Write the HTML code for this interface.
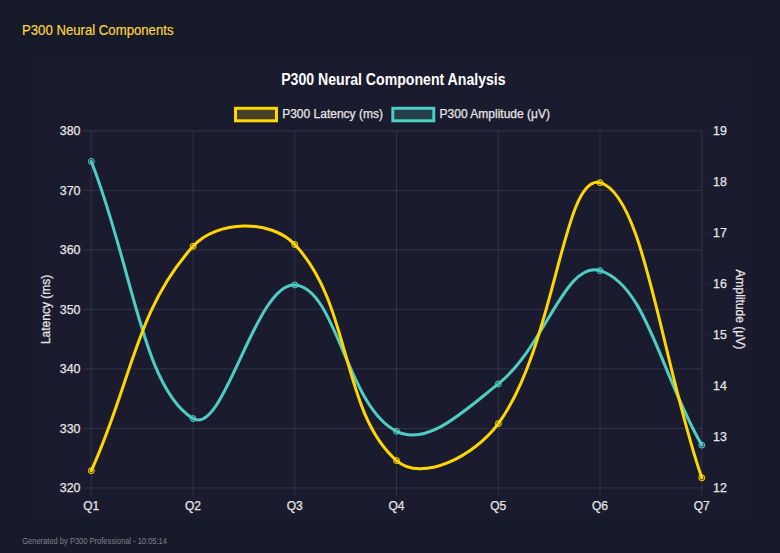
<!DOCTYPE html>
<html><head><meta charset="utf-8"><style>
html,body{margin:0;padding:0;width:780px;height:553px;overflow:hidden;background:#171a28;font-family:"Liberation Sans",sans-serif;}
.panel{position:absolute;left:34px;top:61px;width:718px;height:456px;background:#1b1b2f;}
svg{position:absolute;left:0;top:0;}
.t{font-family:"Liberation Sans",sans-serif;font-size:12.4px;fill:#e6e6e6;stroke:#e6e6e6;stroke-width:0.25px;}
.t2{font-family:"Liberation Sans",sans-serif;font-size:12px;fill:#e6e6e6;stroke:#e6e6e6;stroke-width:0.25px;}
.h{font-family:"Liberation Sans",sans-serif;font-size:14px;fill:#fad445;stroke:#fad445;stroke-width:0.2px;}
.f{font-family:"Liberation Sans",sans-serif;font-size:8.6px;fill:#80828c;}
.ti{font-family:"Liberation Sans",sans-serif;font-size:15.6px;font-weight:bold;fill:#ffffff;}
</style></head><body>
<div class="panel"></div>
<svg width="780" height="553" viewBox="0 0 780 553">
<line x1="83.3" y1="487.95" x2="701.8" y2="487.95" stroke="rgba(255,255,255,0.1)" stroke-width="1"/>
<line x1="83.3" y1="428.43" x2="701.8" y2="428.43" stroke="rgba(255,255,255,0.1)" stroke-width="1"/>
<line x1="83.3" y1="368.92" x2="701.8" y2="368.92" stroke="rgba(255,255,255,0.1)" stroke-width="1"/>
<line x1="83.3" y1="309.40" x2="701.8" y2="309.40" stroke="rgba(255,255,255,0.1)" stroke-width="1"/>
<line x1="83.3" y1="249.88" x2="701.8" y2="249.88" stroke="rgba(255,255,255,0.1)" stroke-width="1"/>
<line x1="83.3" y1="190.37" x2="701.8" y2="190.37" stroke="rgba(255,255,255,0.1)" stroke-width="1"/>
<line x1="83.3" y1="130.85" x2="701.8" y2="130.85" stroke="rgba(255,255,255,0.1)" stroke-width="1"/>
<line x1="91.30" y1="130.85" x2="91.30" y2="495.95" stroke="rgba(255,255,255,0.1)" stroke-width="1"/>
<line x1="193.05" y1="130.85" x2="193.05" y2="495.95" stroke="rgba(255,255,255,0.1)" stroke-width="1"/>
<line x1="294.80" y1="130.85" x2="294.80" y2="495.95" stroke="rgba(255,255,255,0.1)" stroke-width="1"/>
<line x1="396.55" y1="130.85" x2="396.55" y2="495.95" stroke="rgba(255,255,255,0.1)" stroke-width="1"/>
<line x1="498.30" y1="130.85" x2="498.30" y2="495.95" stroke="rgba(255,255,255,0.1)" stroke-width="1"/>
<line x1="600.05" y1="130.85" x2="600.05" y2="495.95" stroke="rgba(255,255,255,0.1)" stroke-width="1"/>
<line x1="701.80" y1="130.85" x2="701.80" y2="495.95" stroke="rgba(255,255,255,0.1)" stroke-width="1"/>
<line x1="702.8" y1="487.95" x2="709.8" y2="487.95" stroke="rgba(255,255,255,0.05)" stroke-width="1"/>
<line x1="702.8" y1="436.94" x2="709.8" y2="436.94" stroke="rgba(255,255,255,0.05)" stroke-width="1"/>
<line x1="702.8" y1="385.92" x2="709.8" y2="385.92" stroke="rgba(255,255,255,0.05)" stroke-width="1"/>
<line x1="702.8" y1="334.91" x2="709.8" y2="334.91" stroke="rgba(255,255,255,0.05)" stroke-width="1"/>
<line x1="702.8" y1="283.89" x2="709.8" y2="283.89" stroke="rgba(255,255,255,0.05)" stroke-width="1"/>
<line x1="702.8" y1="232.88" x2="709.8" y2="232.88" stroke="rgba(255,255,255,0.05)" stroke-width="1"/>
<line x1="702.8" y1="181.86" x2="709.8" y2="181.86" stroke="rgba(255,255,255,0.05)" stroke-width="1"/>
<line x1="702.8" y1="130.85" x2="709.8" y2="130.85" stroke="rgba(255,255,255,0.05)" stroke-width="1"/>
<text x="80.5" y="492.25" text-anchor="end" class="t">320</text>
<text x="80.5" y="432.73" text-anchor="end" class="t">330</text>
<text x="80.5" y="373.22" text-anchor="end" class="t">340</text>
<text x="80.5" y="313.70" text-anchor="end" class="t">350</text>
<text x="80.5" y="254.18" text-anchor="end" class="t">360</text>
<text x="80.5" y="194.67" text-anchor="end" class="t">370</text>
<text x="80.5" y="135.15" text-anchor="end" class="t">380</text>
<text x="713" y="492.25" class="t">12</text>
<text x="713" y="441.24" class="t">13</text>
<text x="713" y="390.22" class="t">14</text>
<text x="713" y="339.21" class="t">15</text>
<text x="713" y="288.19" class="t">16</text>
<text x="713" y="237.18" class="t">17</text>
<text x="713" y="186.16" class="t">18</text>
<text x="713" y="135.15" class="t">19</text>
<text x="91.30" y="509.5" text-anchor="middle" class="t2">Q1</text>
<text x="193.05" y="509.5" text-anchor="middle" class="t2">Q2</text>
<text x="294.80" y="509.5" text-anchor="middle" class="t2">Q3</text>
<text x="396.55" y="509.5" text-anchor="middle" class="t2">Q4</text>
<text x="498.30" y="509.5" text-anchor="middle" class="t2">Q5</text>
<text x="600.05" y="509.5" text-anchor="middle" class="t2">Q6</text>
<text x="701.80" y="509.5" text-anchor="middle" class="t2">Q7</text>
<text transform="translate(50,309.40) rotate(-90)" text-anchor="middle" class="t2">Latency (ms)</text>
<text transform="translate(735.5,309.40) rotate(90)" text-anchor="middle" class="t2">Amplitude (μV)</text>
<text x="393.4" y="84.8" text-anchor="middle" class="ti" textLength="224.5" lengthAdjust="spacingAndGlyphs">P300 Neural Component Analysis</text>
<rect x="235.5" y="108.3" width="41" height="12.5" fill="rgba(255,215,0,0.2)" stroke="#ffd700" stroke-width="3"/>
<text x="282.2" y="118.4" class="t2">P300 Latency (ms)</text>
<rect x="392.8" y="108.3" width="41" height="12.5" fill="rgba(78,205,196,0.2)" stroke="#4ecdc4" stroke-width="3"/>
<text x="439.6" y="118.4" class="t2">P300 Amplitude (μV)</text>
<text x="22" y="35" class="h" textLength="151.5" lengthAdjust="spacingAndGlyphs">P300 Neural Components</text>
<text x="22.2" y="544.4" class="f" textLength="144.8" lengthAdjust="spacingAndGlyphs">Generated by P300 Professional - 10:05:14</text>
<path d="M91.30 161.46 C132.00 264.30 142.41 387.85 193.05 418.57 C223.81 437.23 255.31 282.44 294.80 284.91 C336.71 287.54 346.60 407.03 396.55 431.32 C428.00 446.62 463.75 411.16 498.30 383.88 C545.15 346.88 565.06 260.10 600.05 270.63 C646.46 284.59 661.10 375.31 701.80 445.10" fill="none" stroke="#4ecdc4" stroke-width="3" stroke-linejoin="round" stroke-linecap="round"/>
<circle cx="91.30" cy="161.46" r="3" fill="rgba(78,205,196,0.2)" stroke="#4ecdc4" stroke-width="1"/>
<circle cx="193.05" cy="418.57" r="3" fill="rgba(78,205,196,0.2)" stroke="#4ecdc4" stroke-width="1"/>
<circle cx="294.80" cy="284.91" r="3" fill="rgba(78,205,196,0.2)" stroke="#4ecdc4" stroke-width="1"/>
<circle cx="396.55" cy="431.32" r="3" fill="rgba(78,205,196,0.2)" stroke="#4ecdc4" stroke-width="1"/>
<circle cx="498.30" cy="383.88" r="3" fill="rgba(78,205,196,0.2)" stroke="#4ecdc4" stroke-width="1"/>
<circle cx="600.05" cy="270.63" r="3" fill="rgba(78,205,196,0.2)" stroke="#4ecdc4" stroke-width="1"/>
<circle cx="701.80" cy="445.10" r="3" fill="rgba(78,205,196,0.2)" stroke="#4ecdc4" stroke-width="1"/>
<path d="M91.30 470.69 C132.00 380.94 135.44 310.33 193.05 246.31 C216.84 219.87 270.48 218.92 294.80 244.53 C351.88 304.62 340.54 411.26 396.55 460.57 C421.94 482.92 474.48 456.21 498.30 423.67 C555.88 345.03 562.94 172.75 600.05 182.63 C644.34 194.42 661.10 359.75 701.80 477.83" fill="none" stroke="#ffd700" stroke-width="3" stroke-linejoin="round" stroke-linecap="round"/>
<circle cx="91.30" cy="470.69" r="3" fill="rgba(255,215,0,0.2)" stroke="#ffd700" stroke-width="1"/>
<circle cx="193.05" cy="246.31" r="3" fill="rgba(255,215,0,0.2)" stroke="#ffd700" stroke-width="1"/>
<circle cx="294.80" cy="244.53" r="3" fill="rgba(255,215,0,0.2)" stroke="#ffd700" stroke-width="1"/>
<circle cx="396.55" cy="460.57" r="3" fill="rgba(255,215,0,0.2)" stroke="#ffd700" stroke-width="1"/>
<circle cx="498.30" cy="423.67" r="3" fill="rgba(255,215,0,0.2)" stroke="#ffd700" stroke-width="1"/>
<circle cx="600.05" cy="182.63" r="3" fill="rgba(255,215,0,0.2)" stroke="#ffd700" stroke-width="1"/>
<circle cx="701.80" cy="477.83" r="3" fill="rgba(255,215,0,0.2)" stroke="#ffd700" stroke-width="1"/>
</svg>
</body></html>
